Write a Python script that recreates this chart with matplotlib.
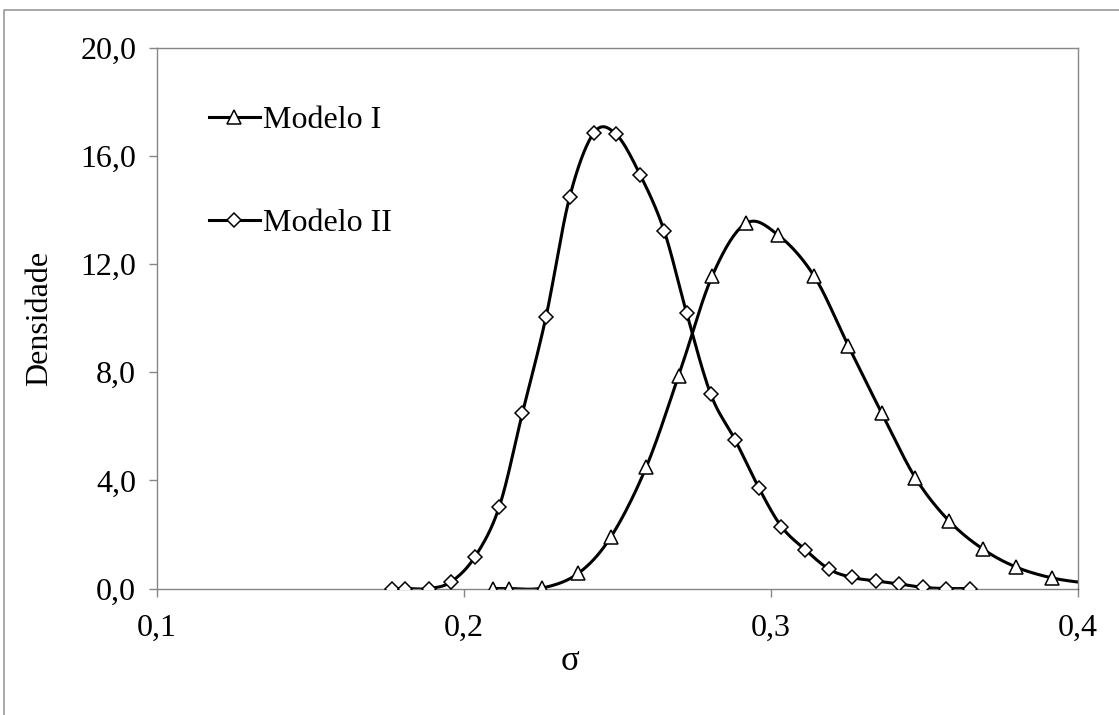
import numpy as np
import matplotlib
matplotlib.use("Agg")
from matplotlib import pyplot as plt
from matplotlib.lines import Line2D
from matplotlib.ticker import FuncFormatter

# valores
sigma_m1 = [0.2093, 0.2146, 0.2255, 0.2372, 0.2479, 0.2593, 0.2699, 0.2809, 0.2918,
            0.3024, 0.3141, 0.3252, 0.3361, 0.3470, 0.3579, 0.3690, 0.3799, 0.3916, 0.4026]
dens_m1 = [0.0, 0.0, 0.02, 0.56, 1.92, 4.48, 7.87, 11.58, 13.51,
           13.07, 11.55, 8.97, 6.48, 4.10, 2.51, 1.46, 0.79, 0.39, 0.20]

sigma_m2 = [0.1766, 0.1808, 0.1886, 0.1958, 0.2036, 0.2115, 0.2190, 0.2267, 0.2344,
            0.2423, 0.2495, 0.2574, 0.2652, 0.2725, 0.2804, 0.2883, 0.2960, 0.3034,
            0.3112, 0.3190, 0.3264, 0.3342, 0.3418, 0.3496, 0.3570, 0.3648]
dens_m2 = [0.0, 0.0, 0.0, 0.25, 1.18, 3.03, 6.48, 10.05, 14.48,
           16.86, 16.81, 15.30, 13.23, 10.20, 7.18, 5.50, 3.73, 2.29,
           1.43, 0.71, 0.41, 0.28, 0.17, 0.04, 0.0, 0.0]

labels = ["Modelo I", "Modelo II"]
xticks = [0.1, 0.2, 0.3, 0.4]
yticks = [0, 4, 8, 12, 16, 20]

FONT = "Liberation Serif"
FS = 23


def smooth(x, y, n=20):
    # curva suave tipo Excel (bezier com tangentes catmull-rom)
    x = np.asarray(x, float)
    y = np.asarray(y, float)
    px = np.concatenate([[x[0]], x, [x[-1]]])
    py = np.concatenate([[y[0]], y, [y[-1]]])
    t = np.linspace(0, 1, n)[:, None]
    xs, ys = [], []
    for i in range(1, len(px) - 2):
        p0 = np.array([px[i], py[i]])
        p3 = np.array([px[i + 1], py[i + 1]])
        c1 = p0 + (np.array([px[i + 1], py[i + 1]]) - np.array([px[i - 1], py[i - 1]])) / 6
        c2 = p3 - (np.array([px[i + 2], py[i + 2]]) - np.array([px[i], py[i]])) / 6
        b = (1 - t) ** 3 * p0 + 3 * (1 - t) ** 2 * t * c1 + 3 * (1 - t) * t ** 2 * c2 + t ** 3 * p3
        xs.append(b[:, 0])
        ys.append(b[:, 1])
    return np.concatenate(xs), np.concatenate(ys)


def comma(v, pos, nd):
    return f"{v:.{nd}f}".replace(".", ",")


fig = plt.figure(figsize=(11.19, 7.15), dpi=100)
ax = fig.add_axes([0.1403, 0.1769, 0.8231, 0.756])

for xs, ys, mk, ms in [(sigma_m1, dens_m1, "^", 10), (sigma_m2, dens_m2, "D", 7)]:
    cx, cy = smooth(xs, ys)
    ax.plot(cx, cy, color="black", lw=2.2, zorder=2)
    ax.plot(xs, ys, ls="none", marker=mk, ms=ms, mfc="white", mec="black", mew=1.1, zorder=3)

ax.set_xlim(0.1, 0.4)
ax.set_ylim(0, 20)
ax.set_xticks(xticks)
ax.set_yticks(yticks)
ax.xaxis.set_major_formatter(FuncFormatter(lambda v, p: comma(v, p, 1)))
ax.yaxis.set_major_formatter(FuncFormatter(lambda v, p: comma(v, p, 1)))
ax.tick_params(direction="out", length=6, width=1, color="#868686", labelsize=FS)
ax.tick_params(axis="x", pad=12)
ax.tick_params(axis="y", pad=9)
for lab in ax.get_xticklabels() + ax.get_yticklabels():
    lab.set_fontfamily(FONT)
for sp in ax.spines.values():
    sp.set_color("#868686")
    sp.set_linewidth(1)

fig.text(40 / 1119, 1 - 318 / 715, "Densidade", rotation=90, ha="center", va="center",
         fontsize=FS, family=FONT)
fig.text(570 / 1119, 1 - 662 / 715, "σ", ha="center", va="center", fontsize=FS + 2, family=FONT)

handles = [Line2D([], [], color="black", lw=2.2, marker="^", ms=10, mfc="white", mec="black", mew=1.1),
           Line2D([], [], color="black", lw=2.2, marker="D", ms=7, mfc="white", mec="black", mew=1.1)]
ax.legend(handles, labels, loc="upper left", bbox_to_anchor=(0.056, 0.893), frameon=False,
          prop={"family": FONT, "size": FS}, handlelength=1.6, handletextpad=0.1,
          labelspacing=2.3, borderpad=0, borderaxespad=0)

# moldura externa do grafico
fig.add_artist(Line2D([4 / 1119, 4 / 1119, 1.0], [0, 1 - 10 / 715, 1 - 10 / 715],
                      color="#9a9a9a", lw=1.2, transform=fig.transFigure))

fig.savefig("out.png", dpi=100)
